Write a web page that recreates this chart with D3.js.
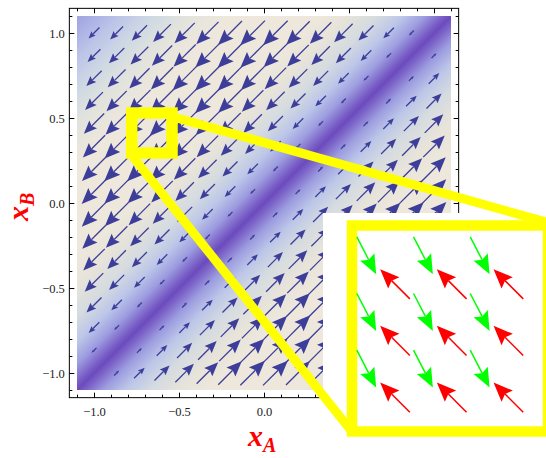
<!DOCTYPE html>
<html>
<head>
<meta charset="utf-8">
<script src="https://cdn.jsdelivr.net/npm/d3@7/dist/d3.min.js"></script>
<style>
body { margin: 0; background: #fff; }
svg { display: block; }
.tk text { font-family: "Liberation Serif", "DejaVu Serif", serif; font-size: 12.5px; fill: #222; }
.tk line { stroke: #000; stroke-width: 1; }
</style>
</head>
<body>
<div id="chart"></div>
<script>
// sample points of the vector field (same on x_A and x_B)
var gridVals = [-1.0, -0.867, -0.733, -0.6, -0.467, -0.333, -0.2, -0.067,
                0.067, 0.2, 0.333, 0.467, 0.6, 0.733, 0.867, 1.0];
// arrow size by diagonal offset |j - i| (0 on the line x_A = x_B)
var arrowSpeed = [0, 0.2, 0.43, 0.61, 0.75, 0.87, 0.95, 0.99, 1.0, 0.97, 0.9, 0.82, 0.72, 0.62, 0.52, 0.44];

// background density, as a function of d = x_B - x_A (symmetric)
var densD = [0, 0.06, 0.15, 0.28, 0.43, 0.62, 0.8, 1.3, 1.55, 1.75, 1.95, 2.1, 2.2];
var densColor = ['#6c4abd', '#7f68ca', '#9c9cdf', '#bcc6e8', '#d5dbe0', '#e8e4da', '#eee8dc',
                 '#eee8dc', '#e2e3dd', '#cfd9e3', '#bcc4e8', '#aab0e4', '#a2a2e0'];

var majorTicks = [-1.0, -0.5, 0.0, 0.5, 1.0];
var tickLabels = ['\u22121.0', '\u22120.5', '0.0', '0.5', '1.0'];
var minorTicks = [-1.1, -0.9, -0.8, -0.7, -0.6, -0.4, -0.3, -0.2, -0.1,
                  0.1, 0.2, 0.3, 0.4, 0.6, 0.7, 0.8, 0.9, 1.1];

// zoomed inset: 3x3 pairs of arrows
var insetCols = [0, 1, 2];
var insetRows = [0, 1, 2];
var greenVec = [0.46, -0.89];
var redVec = [-0.707, 0.707];

var W = 546, H = 458;
var svg = d3.select('#chart').append('svg').attr('width', W).attr('height', H);

var x = d3.scaleLinear().domain([-1.1, 1.1]).range([77, 451]);
var y = d3.scaleLinear().domain([-1.1, 1.1]).range([390, 16]);
var lenScale = d3.scaleLinear().domain([0, 1]).range([0, 35]);

// density via a gradient across the diagonal
var defs = svg.append('defs');
var grad = defs.append('linearGradient').attr('id', 'dens')
  .attr('gradientUnits', 'userSpaceOnUse')
  .attr('x1', x(-1.1)).attr('y1', y(1.1))
  .attr('x2', x(1.1)).attr('y2', y(-1.1));
var stops = [];
densD.forEach(function(d, i){ stops.push({ d: d, c: densColor[i] }); });
densD.forEach(function(d, i){ if (d > 0) stops.push({ d: -d, c: densColor[i] }); });
stops.sort(function(a, b){ return b.d - a.d; });
grad.selectAll('stop').data(stops).enter().append('stop')
  .attr('offset', function(s){ return (2.2 - s.d) / 4.4; })
  .attr('stop-color', function(s){ return s.c; });

svg.append('rect')
  .attr('x', x(-1.1)).attr('y', y(1.1))
  .attr('width', x(1.1) - x(-1.1)).attr('height', y(-1.1) - y(1.1))
  .attr('fill', 'url(#dens)');

function arrow(g, cx, cy, ux, uy, L, col, sw) {
  if (L <= 0) return;
  var hl = 0.46 * L, hw = 0.19 * L;
  var tx = cx - ux * L / 2, ty = cy - uy * L / 2;
  var px = cx + ux * L / 2, py = cy + uy * L / 2;
  var bx = px - ux * hl, by = py - uy * hl;
  var nx = -uy, ny = ux;
  var kx = px - ux * hl * 0.84, ky = py - uy * hl * 0.84;
  g.append('line').attr('x1', tx).attr('y1', ty).attr('x2', kx).attr('y2', ky)
    .attr('stroke', col).attr('stroke-width', sw);
  g.append('path')
    .attr('d', 'M' + px + ',' + py + 'L' + (bx + nx * hw) + ',' + (by + ny * hw) +
      'L' + kx + ',' + ky + 'L' + (bx - nx * hw) + ',' + (by - ny * hw) + 'Z')
    .attr('fill', col);
}

// vector field
var field = [];
gridVals.forEach(function(xa, i){
  gridVals.forEach(function(xb, j){
    var k = j - i;
    field.push({ xa: xa, xb: xb, s: arrowSpeed[Math.abs(k)], sign: k > 0 ? -1 : 1 });
  });
});
var fg = svg.append('g');
field.forEach(function(f){
  var u = f.sign / Math.SQRT2;
  arrow(fg, x(f.xa), y(f.xb), u, -u, lenScale(f.s), '#3d3d9a', 1.3);
});

// frame and ticks
var fx0 = x(-1.145), fx1 = x(1.145), fy0 = y(1.145), fy1 = y(-1.145);
svg.append('rect').attr('x', fx0).attr('y', fy0)
  .attr('width', fx1 - fx0).attr('height', fy1 - fy0)
  .attr('fill', 'none').attr('stroke', '#000').attr('stroke-width', 1);

function fmt(v) { return tickLabels[majorTicks.indexOf(v)]; }
function addAxis(ax, tx, ty, vals, size, withLabels, pad) {
  var a = ax.tickValues(vals).tickSize(size).tickPadding(pad)
    .tickFormat(withLabels ? fmt : function(){ return ''; });
  var g = svg.append('g').attr('class', 'tk').attr('transform', 'translate(' + tx + ',' + ty + ')').call(a);
  g.select('.domain').remove();
}
addAxis(d3.axisBottom(x), 0, fy1, majorTicks, -5, true, 9);
addAxis(d3.axisBottom(x), 0, fy1, minorTicks, -3, false, 9);
addAxis(d3.axisLeft(y), fx0, 0, majorTicks, -5, true, 4.5);
addAxis(d3.axisLeft(y), fx0, 0, minorTicks, -3, false, 4.5);
addAxis(d3.axisTop(x), 0, fy0, majorTicks, -5, false, 3);
addAxis(d3.axisTop(x), 0, fy0, minorTicks, -3, false, 3);
addAxis(d3.axisRight(y), fx1, 0, majorTicks, -5, false, 3);
addAxis(d3.axisRight(y), fx1, 0, minorTicks, -3, false, 3);

// axis labels
var lab = svg.append('text').attr('x', 248).attr('y', 446)
  .style('font-family', '"Liberation Serif", serif').style('font-weight', 'bold')
  .style('font-style', 'italic').style('font-size', '30px').attr('fill', '#ff0000');
lab.append('tspan').text('x');
lab.append('tspan').attr('dy', 6).style('font-size', '20px').text('A');

var laby = svg.append('text').attr('transform', 'translate(28,221) rotate(-90)')
  .style('font-family', '"Liberation Serif", serif').style('font-weight', 'bold')
  .style('font-style', 'italic').style('font-size', '30px').attr('fill', '#ff0000');
laby.append('tspan').text('x');
laby.append('tspan').attr('dy', 6).style('font-size', '20px').text('B');

// zoom box
var yellow = '#ffff00';
svg.append('rect').attr('x', 131.7).attr('y', 113).attr('width', 40.3).attr('height', 40)
  .attr('fill', 'none').attr('stroke', yellow).attr('stroke-width', 11.5);

// white backdrop of the inset
svg.append('rect').attr('x', 323).attr('y', 213).attr('width', W - 323).attr('height', H - 213)
  .attr('fill', '#fff');

// connector lines
svg.append('line').attr('x1', 177).attr('y1', 118).attr('x2', 565).attr('y2', 227.4)
  .attr('stroke', yellow).attr('stroke-width', 9);
svg.append('line').attr('x1', 133).attr('y1', 157).attr('x2', 353).attr('y2', 433)
  .attr('stroke', yellow).attr('stroke-width', 9);

// inset frame
svg.append('rect').attr('x', 352).attr('y', 225.5).attr('width', 196).attr('height', 206)
  .attr('fill', '#fff').attr('stroke', yellow).attr('stroke-width', 10.5);

var ix = d3.scaleLinear().domain([0, 2]).range([380.8, 494.2]);
var iy = d3.scaleLinear().domain([0, 2]).range([269.8, 383.2]);
var ig = svg.append('g');
insetRows.forEach(function(r){
  insetCols.forEach(function(c){
    arrow(ig, ix(c) - 14.3, iy(r) - 14.3, greenVec[0], -greenVec[1], 42, '#00ff00', 1.5);
    arrow(ig, ix(c) + 14.2, iy(r) + 14.2, redVec[0], -redVec[1], 42, '#ff0000', 1.5);
  });
});
</script>
</body>
</html>
